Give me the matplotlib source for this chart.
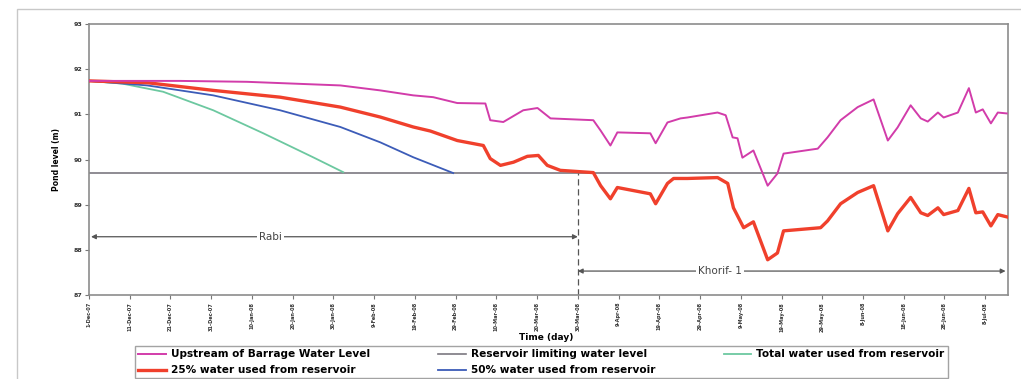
import matplotlib
matplotlib.use("Agg")
import matplotlib.pyplot as plt
from matplotlib.patches import Rectangle

# ---------------- data ----------------
# x = days after 1-Dec-2007, y = water level (m)
tick_days = list(range(0, 221, 10))
tick_labels = ["1-Dec-07", "11-Dec-07", "21-Dec-07", "31-Dec-07", "10-Jan-08", "20-Jan-08",
               "30-Jan-08", "9-Feb-08", "19-Feb-08", "29-Feb-08", "10-Mar-08", "20-Mar-08",
               "30-Mar-08", "9-Apr-08", "19-Apr-08", "29-Apr-08", "9-May-08", "19-May-08",
               "29-May-08", "8-Jun-08", "18-Jun-08", "28-Jun-08", "8-Jul-08"]
y_ticks = [87, 88, 89, 90, 91, 92, 93]

upstream_days = [0, 22.4, 38.8, 61.7, 71.5, 79.6, 84.5, 90.4, 97.3, 98.5, 101.7, 106.6, 110.1,
                 113.3, 123.8, 125.6, 128.0, 129.7, 137.8, 139.1, 142.0, 145.2, 146.9, 154.3,
                 156.3, 158.0, 159.2, 160.4, 163.1, 166.6, 169.0, 170.5, 178.9, 181.3, 184.5,
                 188.7, 192.6, 196.1, 198.5, 201.7, 204.2, 205.9, 208.4, 209.8, 213.3, 216.0,
                 217.7, 219.4, 221.4, 223.1, 225.3]
upstream_level = [91.74, 91.74, 91.72, 91.64, 91.53, 91.42, 91.38, 91.25, 91.24, 90.87, 90.83,
                  91.09, 91.14, 90.91, 90.87, 90.64, 90.31, 90.60, 90.58, 90.36, 90.82, 90.91,
                  90.93, 91.04, 90.98, 90.49, 90.47, 90.04, 90.20, 89.42, 89.69, 90.13, 90.24,
                  90.49, 90.87, 91.16, 91.33, 90.42, 90.71, 91.20, 90.91, 90.84, 91.04, 90.93,
                  91.04, 91.58, 91.04, 91.11, 90.80, 91.04, 91.02]

limit_days = [0, 225.6]
limit_level = [89.71, 89.71]

total_days = [0, 8.2, 18.2, 30.5, 42.8, 55.0, 62.4]
total_level = [91.74, 91.68, 91.50, 91.09, 90.58, 90.05, 89.72]

p25_days = [0, 14.3, 30.5, 46.9, 61.7, 71.5, 79.6, 83.8, 90.4, 96.8, 98.5, 101.0, 104.2, 107.6,
            110.3, 112.5, 115.7, 123.8, 125.6, 128.0, 129.7, 137.8, 139.1, 142.0, 143.5, 146.9,
            154.3, 156.8, 158.2, 160.7, 163.1, 166.6, 169.0, 170.5, 179.6, 181.3, 184.5, 188.7,
            192.6, 196.1, 198.5, 201.7, 204.2, 205.9, 208.4, 209.8, 213.3, 216.0, 217.7, 219.4,
            221.4, 223.1, 225.3]
p25_level = [91.74, 91.70, 91.53, 91.38, 91.16, 90.94, 90.72, 90.63, 90.42, 90.31, 90.02, 89.87,
             89.94, 90.07, 90.09, 89.87, 89.76, 89.71, 89.42, 89.13, 89.38, 89.24, 89.02, 89.47,
             89.58, 89.58, 89.60, 89.47, 88.93, 88.49, 88.62, 87.78, 87.93, 88.42, 88.49, 88.64,
             89.02, 89.27, 89.42, 88.42, 88.80, 89.16, 88.82, 88.76, 88.93, 88.78, 88.87, 89.36,
             88.82, 88.84, 88.53, 88.78, 88.73]

p50_days = [0, 14.3, 30.5, 46.9, 61.7, 71.5, 79.6, 89.4]
p50_level = [91.74, 91.64, 91.42, 91.09, 90.72, 90.38, 90.05, 89.70]

season_split_day = 120
rabi_arrow_level = 88.29
khorif_arrow_level = 87.53

# ---------------- figure ----------------
W, H = 1021, 379
fig = plt.figure(figsize=(W / 100, H / 100), dpi=100)
fig.patch.set_facecolor("white")

# outer light frame
fig.patches.append(Rectangle((17 / W, -0.01), 1.02 - 17 / W, 1 - 9 / H + 0.01,
                             transform=fig.transFigure, fill=False,
                             edgecolor="#c8c8c8", linewidth=1.0, zorder=0))

ax = fig.add_axes([89 / W, 1 - 295 / H, (1008 - 89) / W, (295 - 24) / H])

c_up = "#d23caa"
c_lim = "#7c7880"
c_tot = "#6cc8a0"
c_25 = "#f0402c"
c_50 = "#3c5cb8"

l_tot, = ax.plot(total_days, total_level, color=c_tot, lw=1.3, zorder=3,
                 label="Total water used from reservoir")
l_50, = ax.plot(p50_days, p50_level, color=c_50, lw=1.3, zorder=3,
                label="50% water used from reservoir")
l_25, = ax.plot(p25_days, p25_level, color=c_25, lw=2.4, zorder=4,
                label="25% water used from reservoir")
l_up, = ax.plot(upstream_days, upstream_level, color=c_up, lw=1.4, zorder=5,
                label="Upstream of Barrage Water Level")
l_lim, = ax.plot(limit_days, limit_level, color=c_lim, lw=1.2, zorder=2,
                 label="Reservoir limiting water level")

ax.set_xlim(0, 225.6)
ax.set_ylim(87, 93)
ax.set_xticks(tick_days)
ax.set_xticklabels(tick_labels, rotation=90, fontsize=3.6, fontweight="bold", color="#333333")
ax.set_yticks(y_ticks)
ax.set_yticklabels([str(v) for v in y_ticks], fontsize=4.5, fontweight="bold", color="#333333")
ax.tick_params(axis="both", length=3, width=0.8, color="#777777", pad=2)
for s in ax.spines.values():
    s.set_color("#8c8c8c")
    s.set_linewidth(1.2)

ax.set_xlabel("Time (day)", fontsize=6.5, fontweight="bold")
ax.xaxis.set_label_coords(0.497, -0.14)
ax.set_ylabel("Pond level (m)", fontsize=5.5, fontweight="bold")
ax.yaxis.set_label_coords(-0.031, 0.5)

# season split
ax.plot([season_split_day, season_split_day], [87, limit_level[0]], color="#555555",
        lw=0.9, ls=(0, (5, 3)), zorder=2)

# Rabi arrow
ax.annotate("", xy=(0.5, rabi_arrow_level), xytext=(season_split_day, rabi_arrow_level),
            arrowprops=dict(arrowstyle="<|-|>", color="#555555", lw=0.9, mutation_scale=7,
                            shrinkA=0, shrinkB=0))
ax.text(44.5, rabi_arrow_level, "Rabi", fontsize=7.5, ha="center", va="center",
        color="#444444", bbox=dict(facecolor="white", edgecolor="none", pad=1.5))
# Khorif arrow
ax.annotate("", xy=(season_split_day, khorif_arrow_level), xytext=(225, khorif_arrow_level),
            arrowprops=dict(arrowstyle="<|-|>", color="#555555", lw=0.9, mutation_scale=7,
                            shrinkA=0, shrinkB=0))
ax.text(155, khorif_arrow_level, "Khorif- 1", fontsize=7.5, ha="center", va="center",
        color="#444444", bbox=dict(facecolor="white", edgecolor="none", pad=1.5))

leg = fig.legend(handles=[l_up, l_25, l_lim, l_50, l_tot], ncol=3,
                 loc="upper left", bbox_to_anchor=(130 / W, 1 - 341 / H, (953 - 130) / W, 0.0),
                 mode="expand", prop={"weight": "bold", "size": 7.6},
                 frameon=True, fancybox=False, edgecolor="#8c8c8c",
                 handlelength=2.6, handletextpad=0.5, borderpad=0.3, labelspacing=0.55,
                 columnspacing=1.0)
leg.get_frame().set_linewidth(1.0)

fig.savefig("out.png", dpi=100, facecolor="white")
